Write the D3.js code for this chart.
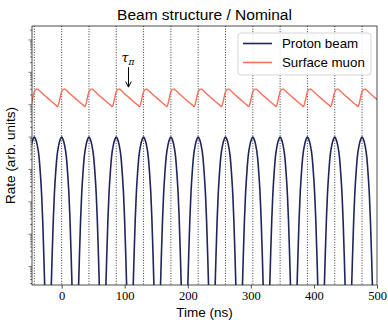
<!DOCTYPE html>
<html>
<head>
<meta charset="utf-8">
<script src="https://cdn.jsdelivr.net/npm/d3@7"></script>
<style>
  body { margin: 0; background: #fff; }
  text { fill: #000; }
</style>
</head>
<body>
<div id="chart"></div>
<script>
// ---- data ----
const chartTitle = "Beam structure / Nominal";
const xLabel = "Time (ns)";
const yLabel = "Rate (arb. units)";
const xTicks = [0, 100, 200, 300, 400, 500];
const xDomain = [-47, 500];
const yDomain = [2.7e-5, 2.7e3];

// bunch centres (dotted lines), ns
const bunchTimes = [-43.3, 0, 43.3, 86.6, 129.9, 173.2, 216.5, 259.8, 303.1, 346.4, 389.7, 433.0, 476.3];

// proton pulse around each bunch centre
const protonOffsets = [-21, -19.5, -18, -16.4, -14.8, -13.2, -11.6, -9.5, -7.5, -4.3, -2, 0, 2, 4.3, 7.5, 9.5, 11.6, 13.2, 14.8, 16.4, 18, 19.5, 21];
const protonRates = [4.5e-13, 9.4e-9, 9.6e-7, 2.7e-5, 3.2e-4, 2.92e-3, 0.0162, 0.0773, 0.241, 0.608, 0.868, 1,
                     0.868, 0.608, 0.241, 0.0773, 0.0162, 2.92e-3, 3.2e-4, 2.7e-5, 9.6e-7, 9.4e-9, 4.5e-13];

// surface muon rate over one bunch period
const muonOffsets = [-7.5, -6.5, -5, -3, -1, 0, 2, 4, 5.5, 8, 15, 25, 32, 34.5];
const muonRates = [8.9, 8.8, 10.0, 14.5, 21.5, 25, 29, 30.4, 30.0, 27.3, 20.4, 13.8, 10.5, 9.6];

const seriesNames = ["Proton beam", "Surface muon"];
const seriesColors = ["#22245c", "#f4705c"];

// annotation (tau_pi) arrow tip
const annotTime = 106;
const annotRate = 35;

// ---- layout ----
const W = 388, H = 320;
const margin = { top: 26, right: 11, bottom: 35, left: 32 };
const pw = W - margin.left - margin.right;
const ph = H - margin.top - margin.bottom;

const svg = d3.select("#chart").append("svg")
  .attr("width", W).attr("height", H);

const x = d3.scaleLinear().domain(xDomain).range([0, pw]);
const y = d3.scaleLog().domain(yDomain).range([ph, 0]);

const g = svg.append("g").attr("transform", `translate(${margin.left},${margin.top})`);

svg.append("defs").append("clipPath").attr("id", "clip")
  .append("rect").attr("width", pw).attr("height", ph);

// dotted bunch lines
g.append("g").attr("clip-path", "url(#clip)")
  .selectAll("line").data(bunchTimes).enter().append("line")
  .attr("x1", d => x(d)).attr("x2", d => x(d))
  .attr("y1", 0).attr("y2", ph)
  .attr("stroke", "#222").attr("stroke-width", 0.9)
  .attr("stroke-dasharray", "1,1.6");

function buildSeries(offsets, rates) {
  const pts = [];
  bunchTimes.forEach(b => {
    offsets.forEach((o, i) => pts.push([b + o, rates[i]]));
  });
  return pts.sort((a, b) => a[0] - b[0]);
}

const protonPts = buildSeries(protonOffsets, protonRates);
const muonPts = buildSeries(muonOffsets, muonRates);

const line = d3.line()
  .x(d => x(d[0]))
  .y(d => y(d[1]))
  .curve(d3.curveMonotoneX);

const plot = g.append("g").attr("clip-path", "url(#clip)");
plot.append("path").datum(protonPts)
  .attr("d", line).attr("fill", "none")
  .attr("stroke", seriesColors[0]).attr("stroke-width", 1.6);
plot.append("path").datum(muonPts)
  .attr("d", line).attr("fill", "none")
  .attr("stroke", seriesColors[1]).attr("stroke-width", 1.4);

// axes
const xAxis = d3.axisBottom(x).tickValues(xTicks).tickSize(3.5).tickPadding(3);
const gx = g.append("g").attr("transform", `translate(0,${ph})`).call(xAxis);
gx.select(".domain").remove();
gx.selectAll("line").attr("stroke", "#222").attr("stroke-width", 0.8);
gx.selectAll("text").attr("font-family", "'Liberation Serif', serif").attr("font-size", 12.5);

// log y ticks, no labels
const yTickVals = y.ticks();
const gy = g.append("g");
gy.selectAll("line").data(yTickVals).enter().append("line")
  .attr("x1", 0).attr("x2", d => {
    const m = Math.log10(d);
    return Math.abs(m - Math.round(m)) < 1e-9 ? -3.5 : -2;
  })
  .attr("y1", d => y(d)).attr("y2", d => y(d))
  .attr("stroke", "#222").attr("stroke-width", 0.6);

// frame
g.append("rect").attr("width", pw).attr("height", ph)
  .attr("fill", "none").attr("stroke", "#222").attr("stroke-width", 0.8);

// labels
svg.append("text").attr("x", margin.left + pw / 2).attr("y", 19.5)
  .attr("text-anchor", "middle").attr("font-family", "'Liberation Sans', Arial, sans-serif")
  .attr("font-size", 15.5).text(chartTitle);
svg.append("text").attr("x", margin.left + pw / 2).attr("y", 317)
  .attr("text-anchor", "middle").attr("font-family", "'Liberation Sans', Arial, sans-serif")
  .attr("font-size", 13.5).text(xLabel);
svg.append("text").attr("transform", `translate(15,${margin.top + ph / 2}) rotate(-90)`)
  .attr("text-anchor", "middle").attr("font-family", "'Liberation Sans', Arial, sans-serif")
  .attr("font-size", 13.5).text(yLabel);

// annotation
const ax = x(annotTime), ay = y(annotRate);
const ann = g.append("g");
ann.append("line").attr("x1", ax).attr("x2", ax).attr("y1", ay - 20).attr("y2", ay)
  .attr("stroke", "#000").attr("stroke-width", 1);
ann.append("path").attr("d", `M${ax - 2.8},${ay - 5.5}L${ax},${ay}L${ax + 2.8},${ay - 5.5}`)
  .attr("fill", "none").attr("stroke", "#000").attr("stroke-width", 1);
const tt = ann.append("text").attr("x", ax - 0.5).attr("y", ay - 25)
  .attr("text-anchor", "middle").attr("font-family", "'DejaVu Serif', serif").attr("font-size", 12.5);
tt.append("tspan").attr("font-style", "italic").text("τ");
tt.append("tspan").attr("font-style", "italic").attr("font-size", 9).attr("dy", 3).text("π");

// legend
const lg = g.append("g").attr("transform", `translate(${pw - 139},7)`);
lg.append("rect").attr("width", 133).attr("height", 42).attr("rx", 3)
  .attr("fill", "#fff").attr("fill-opacity", 0.85)
  .attr("stroke", "#ccc").attr("stroke-width", 0.8);
seriesNames.forEach((name, i) => {
  const yy = 10.5 + i * 19;
  lg.append("line").attr("x1", 5).attr("x2", 34).attr("y1", yy).attr("y2", yy)
    .attr("stroke", seriesColors[i]).attr("stroke-width", 1.6);
  lg.append("text").attr("x", 44).attr("y", yy + 4.8)
    .attr("font-family", "'Liberation Sans', Arial, sans-serif").attr("font-size", 13.3)
    .text(name);
});
</script>
</body>
</html>
